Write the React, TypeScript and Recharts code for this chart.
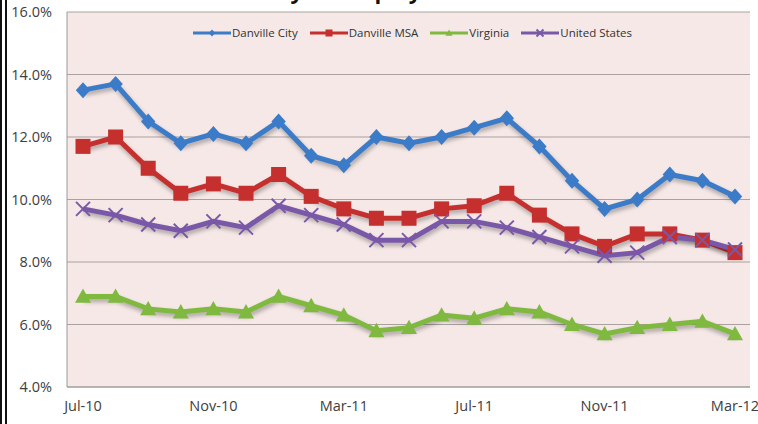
import React from "react";
import { LineChart, Line, XAxis, YAxis, CartesianGrid } from "recharts";

// monthly unemployment rates, Jul-10 .. Mar-12 (percent)
const months = [
  "Jul-10", "Aug-10", "Sep-10", "Oct-10", "Nov-10", "Dec-10", "Jan-11",
  "Feb-11", "Mar-11", "Apr-11", "May-11", "Jun-11", "Jul-11", "Aug-11",
  "Sep-11", "Oct-11", "Nov-11", "Dec-11", "Jan-12", "Feb-12", "Mar-12",
];
const danvilleCity = [13.5, 13.7, 12.5, 11.8, 12.1, 11.8, 12.5, 11.4, 11.1, 12.0, 11.8, 12.0, 12.3, 12.6, 11.7, 10.6, 9.7, 10.0, 10.8, 10.6, 10.1];
const danvilleMsa = [11.7, 12.0, 11.0, 10.2, 10.5, 10.2, 10.8, 10.1, 9.7, 9.4, 9.4, 9.7, 9.8, 10.2, 9.5, 8.9, 8.5, 8.9, 8.9, 8.7, 8.3];
const virginia = [6.9, 6.9, 6.5, 6.4, 6.5, 6.4, 6.9, 6.6, 6.3, 5.8, 5.9, 6.3, 6.2, 6.5, 6.4, 6.0, 5.7, 5.9, 6.0, 6.1, 5.7];
const unitedStates = [9.7, 9.5, 9.2, 9.0, 9.3, 9.1, 9.8, 9.5, 9.2, 8.7, 8.7, 9.3, 9.3, 9.1, 8.8, 8.5, 8.2, 8.3, 8.8, 8.7, 8.4];
const yTicks = [4, 6, 8, 10, 12, 14, 16];

const data = months.map((m, i) => ({
  month: m,
  city: danvilleCity[i],
  msa: danvilleMsa[i],
  va: virginia[i],
  us: unitedStates[i],
}));

const BLUE = "#3B7BC8";
const RED = "#C5302F";
const GREEN = "#7FB940";
const PURPLE = "#7A58A8";

type Shape = "diamond" | "square" | "triangle" | "x";

const Marker = ({ shape, cx, cy, color, s }: { shape: Shape; cx: number; cy: number; color: string; s: number }) => {
  if (shape === "diamond")
    return <polygon points={`${cx},${cy - s} ${cx + s * 0.9},${cy} ${cx},${cy + s} ${cx - s * 0.9},${cy}`} fill={color} />;
  if (shape === "square")
    return <rect x={cx - s} y={cy - s} width={s * 2} height={s * 2} fill={color} />;
  if (shape === "triangle")
    return <polygon points={`${cx},${cy - s} ${cx + s},${cy + s * 0.8} ${cx - s},${cy + s * 0.8}`} fill={color} />;
  return (
    <g stroke={color} strokeWidth={2}>
      <line x1={cx - s} y1={cy - s} x2={cx + s} y2={cy + s} />
      <line x1={cx - s} y1={cy + s} x2={cx + s} y2={cy - s} />
    </g>
  );
};

const makeDot = (shape: Shape, color: string, s: number) => (props: any) => (
  <Marker key={`${shape}-${props.index}`} shape={shape} cx={props.cx} cy={props.cy} color={color} s={s} />
);

const legendItems: { label: string; color: string; shape: Shape }[] = [
  { label: "Danville City", color: BLUE, shape: "diamond" },
  { label: "Danville MSA", color: RED, shape: "square" },
  { label: "Virginia", color: GREEN, shape: "triangle" },
  { label: "United States", color: PURPLE, shape: "x" },
];

const tickStyle = { fontSize: 14.5, fill: "#404040", fontFamily: "'Open Sans', sans-serif" };

export default function App() {
  return (
    <div style={{ position: "absolute", left: 0, top: 0, width: 758, height: 424, background: "#fff", overflow: "hidden" }}>
      <style>{`.recharts-line-curve { filter: drop-shadow(1px 3px 2px rgba(0,0,0,0.3)); }`}</style>
      <div style={{ position: "absolute", left: 0, top: 0, width: 1, height: 424, borderLeft: "7px double #111" }} />
      <div
        style={{
          position: "absolute", left: 0, width: 758, top: -25, textAlign: "center",
          fontFamily: "'Open Sans', sans-serif", fontWeight: 700, fontSize: 22, color: "#111",
        }}
      >
        Monthly Unemployment Rates
      </div>
      <LineChart width={758} height={424} data={data} margin={{ top: 12, right: 8, bottom: 7, left: 7 }}>
        <CartesianGrid vertical={false} fill="#F5E8E7" stroke="#A9A1A0" />
        <XAxis
          dataKey="month"
          interval={3}
          padding={{ left: 16, right: 15 }}
          tick={tickStyle}
          tickLine={false}
          tickSize={0}
          tickMargin={14}
          axisLine={{ stroke: "#9A9A9A" }}
        />
        <YAxis
          domain={[4, 16]}
          ticks={yTicks}
          width={60}
          tick={tickStyle}
          tickLine={false}
          tickSize={0}
          tickMargin={15}
          tickFormatter={(v: number) => v.toFixed(1) + "%"}
          axisLine={{ stroke: "#9A9A9A" }}
        />
        <YAxis yAxisId="r" orientation="right" width={0} tick={false} axisLine={{ stroke: "#B8B0B0" }} />
        <Line dataKey="city" name="Danville City" stroke={BLUE} strokeWidth={5} dot={makeDot("diamond", BLUE, 8)} isAnimationActive={false} />
        <Line dataKey="msa" name="Danville MSA" stroke={RED} strokeWidth={5} dot={makeDot("square", RED, 7.5)} isAnimationActive={false} />
        <Line dataKey="va" name="Virginia" stroke={GREEN} strokeWidth={5} dot={makeDot("triangle", GREEN, 8)} isAnimationActive={false} />
        <Line dataKey="us" name="United States" stroke={PURPLE} strokeWidth={5} dot={makeDot("x", PURPLE, 7)} isAnimationActive={false} />
      </LineChart>
      <div
        style={{
          position: "absolute", left: 193, top: 26, display: "flex", gap: 12, fontSize: 11.5,
          color: "#333", fontFamily: "'Open Sans', sans-serif", lineHeight: "14px",
        }}
      >
        {legendItems.map((it) => (
          <div key={it.label} style={{ display: "flex", alignItems: "center" }}>
            <svg width={38} height={12}>
              <line x1={0} y1={6} x2={38} y2={6} stroke={it.color} strokeWidth={3} />
              <Marker shape={it.shape} cx={19} cy={6} color={it.color} s={3.5} />
            </svg>
            <span style={{ marginLeft: 1 }}>{it.label}</span>
          </div>
        ))}
      </div>
    </div>
  );
}
